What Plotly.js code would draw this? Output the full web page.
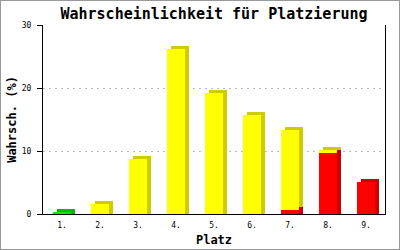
<!DOCTYPE html>
<html><head><meta charset="utf-8">
<script src="https://cdn.plot.ly/plotly-3.0.1.min.js"></script>
<style>
html,body{margin:0;padding:0;background:#fff;}
#wrap{width:400px;height:250px;box-sizing:border-box;border:1px solid #999;overflow:hidden;}
#chart{width:398px;height:248px;}
</style></head>
<body><div id="wrap"><div id="chart"></div></div>
<script>
// Data
const categories = ['1.','2.','3.','4.','5.','6.','7.','8.','9.'];
const redVals    = [0, 0, 0, 0, 0, 0, 0.6, 9.7, 5.1];
const topVals    = [0.3, 1.6, 8.8, 26.2, 19.25, 15.65, 12.8, 0.5, 0];
const topIsGreen = [true, false, false, false, false, false, false, false, false];
const yTicks = [0, 10, 20, 30];

// styles
const FRONT_W = 0.45, DX = 0.105, DY = 0.48;
const topFront = topIsGreen.map(g => g ? '#00ee00' : '#ffff00');
const topSide  = topIsGreen.map(g => g ? '#00bb00' : '#cccc00');
const totals = categories.map((c, i) => redVals[i] + topVals[i]);

const traces = [
  {type:'bar', x:categories, y:totals.map(t => t + DY), base:0,
   width:FRONT_W, offset:-FRONT_W/2 + DX, marker:{color:topSide, line:{width:0}},
   hoverinfo:'skip', showlegend:false},
  {type:'bar', x:categories, y:redVals.map(r => r > 0 ? r + DY : 0), base:0,
   width:FRONT_W, offset:-FRONT_W/2 + DX, marker:{color:'#cc0000', line:{width:0}},
   hoverinfo:'skip', showlegend:false},
  {type:'bar', x:categories, y:redVals, base:0,
   width:FRONT_W, offset:-FRONT_W/2, marker:{color:'#ff0000', line:{width:0}},
   showlegend:false},
  {type:'bar', x:categories, y:topVals, base:redVals,
   width:FRONT_W, offset:-FRONT_W/2, marker:{color:topFront, line:{width:0}},
   showlegend:false}
];

const mono = 'DejaVu Sans Mono, monospace';
const layout = {
  width:398, height:248,
  margin:{l:42, r:14, t:24, b:35, pad:0},
  paper_bgcolor:'#ffffff', plot_bgcolor:'#ffffff',
  barmode:'overlay', bargap:0,
  showlegend:false,
  title:{text:'<b>Wahrscheinlichkeit für Platzierung</b>', font:{family:mono, size:15, color:'#000'},
         x:0.5, xanchor:'center', y:0.95, yanchor:'middle', xref:'paper'},
  xaxis:{type:'category', range:[-0.5, 8.5], showline:true, linecolor:'#000', linewidth:1,
         showgrid:false, zeroline:false, ticks:'outside', ticklen:3, tickcolor:'rgba(0,0,0,0)',
         tickfont:{family:mono, size:8, color:'#000'},
         title:{text:'<b>Platz</b>', font:{family:mono, size:12, color:'#000'}, standoff:7}},
  yaxis:{range:[0, 30], tickvals:yTicks, ticktext:yTicks.map(String),
         showline:true, mirror:true, linecolor:'#000', linewidth:1,
         showgrid:true, gridcolor:'#bbbbbb', griddash:'2px,4px', gridwidth:1,
         zeroline:false, ticks:'outside', ticklen:5, tickcolor:'#000', tickwidth:1,
         ticklabelstandoff:4,
         tickfont:{family:mono, size:8, color:'#000'},
         title:{text:'<b>Wahrsch. (%)</b>', font:{family:mono, size:12, color:'#000'}, standoff:2}}
};

Plotly.newPlot('chart', traces, layout, {staticPlot:true, displayModeBar:false});
</script></body></html>
